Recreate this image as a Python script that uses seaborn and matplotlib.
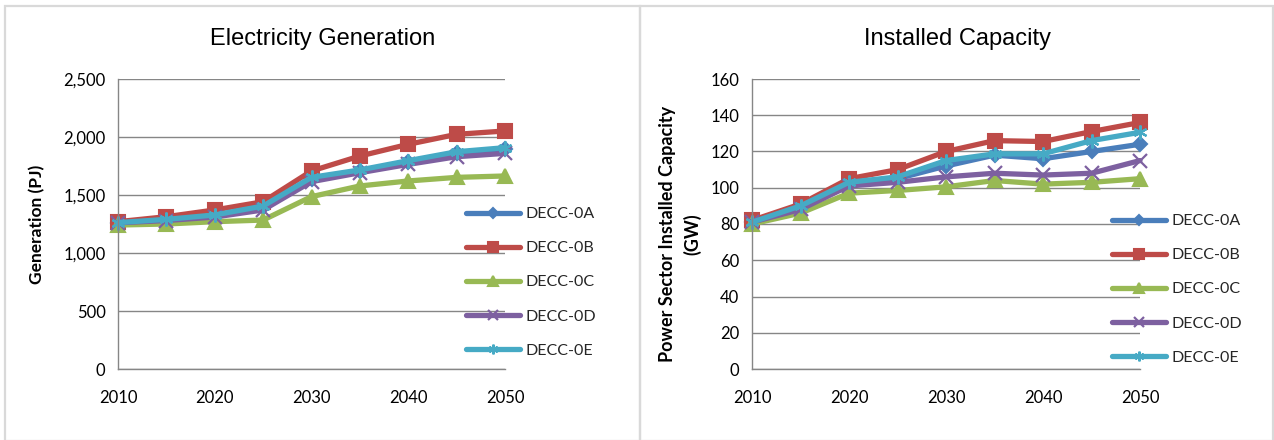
import matplotlib
matplotlib.use("Agg")
import matplotlib.pyplot as plt
from matplotlib.patches import Rectangle
import pandas as pd
import seaborn as sns

# Scenario results, 2010-2050 in five-year steps
years = [2010, 2015, 2020, 2025, 2030, 2035, 2040, 2045, 2050]
scenarios = ["DECC-0A", "DECC-0B", "DECC-0C", "DECC-0D", "DECC-0E"]

gen_0a = [1260, 1285, 1320, 1395, 1640, 1705, 1785, 1860, 1895]
gen_0b = [1270, 1313, 1371, 1442, 1707, 1836, 1937, 2023, 2052]
gen_0c = [1241, 1250, 1270, 1284, 1486, 1578, 1621, 1652, 1664]
gen_0d = [1260, 1280, 1310, 1371, 1615, 1692, 1764, 1830, 1859]
gen_0e = [1262, 1290, 1328, 1405, 1652, 1716, 1796, 1873, 1908]

cap_0a = [81, 89, 102, 105, 112, 118, 116, 120, 124]
cap_0b = [82, 91, 105, 110, 120, 126, 125.5, 131, 136]
cap_0c = [80, 86, 97, 98.5, 100.5, 104, 102, 103, 105]
cap_0d = [81, 88, 101, 103, 106, 108, 107, 108, 115]
cap_0e = [81, 90, 103, 106, 115, 118.7, 118.7, 126, 130.6]

colors = ["#4a7ebb", "#be4b48", "#98b954", "#7d60a0", "#46aac5"]
markers = ["D", "s", "^", "x", (6, 2, 0)]


def long_frame(series):
    rows = []
    for name, vals in zip(scenarios, series):
        for y, v in zip(years, vals):
            rows.append({"year": y, "value": v, "scenario": name})
    return pd.DataFrame(rows)


gen_df = long_frame([gen_0a, gen_0b, gen_0c, gen_0d, gen_0e])
cap_df = long_frame([cap_0a, cap_0b, cap_0c, cap_0d, cap_0e])

sns.set_theme(style="white")
plt.rcParams["font.family"] = ["Lato", "DejaVu Sans"]

W, H = 1274, 440
fig = plt.figure(figsize=(W / 100, H / 100), dpi=100)


def fx(px):
    return px / W


def fy(py):
    return 1 - py / H


# Panel frames
for x0, x1 in [(5, 640), (640, 1273)]:
    fig.add_artist(Rectangle((fx(x0), fy(441)), fx(x1 - x0), fy(6) - fy(441),
                             transform=fig.transFigure, fill=False,
                             edgecolor="#d9d9d9", linewidth=1.6, zorder=0))

grid_c = "#868686"


def draw(ax, df, title, title_x, ylabel, ylabel_size, yticks, ylim, yfmt,
         legend_xy, label_xy):
    marker_map = dict(zip(scenarios, markers))
    palette = dict(zip(scenarios, colors))
    for name in scenarios:
        sub = df[df["scenario"] == name]
        mk = marker_map[name]
        filled = mk in ("D", "s", "^")
        sns.lineplot(data=sub, x="year", y="value", ax=ax, color=palette[name],
                     linewidth=3.8, marker=mk, markersize=10 if mk != "D" else 7.5,
                     markeredgewidth=1.5 if filled else 1.6,
                     markeredgecolor=palette[name],
                     markerfacecolor=palette[name] if filled else "none",
                     label=name, clip_on=False, solid_capstyle="round")
    ax.set_xlim(2010, 2050)
    ax.set_ylim(*ylim)
    ax.set_xticks([2010, 2020, 2030, 2040, 2050])
    ax.set_yticks(yticks)
    ax.set_yticklabels([yfmt(v) for v in yticks])
    ax.set_xlabel("")
    ax.set_ylabel(ylabel, fontsize=ylabel_size, fontweight="bold", color="black",
                  linespacing=1.45)
    ax.yaxis.set_label_coords(fx(label_xy[0]), fy(label_xy[1]), transform=fig.transFigure)
    for s in ["top", "right"]:
        ax.spines[s].set_visible(False)
    for s in ["left", "bottom"]:
        ax.spines[s].set_color(grid_c)
        ax.spines[s].set_linewidth(1.0)
    ax.yaxis.grid(True, color=grid_c, linewidth=1.0)
    ax.xaxis.grid(False)
    ax.set_axisbelow(True)
    ax.tick_params(axis="both", which="both", direction="out", length=5,
                   width=1.0, color=grid_c, labelsize=12, labelcolor="black")
    ax.tick_params(axis="x", pad=10)
    ax.tick_params(axis="y", pad=4)
    handles, labels = ax.get_legend_handles_labels()
    ax.legend(handles, labels, loc="upper left",
              bbox_to_anchor=(fx(legend_xy[0]), fy(legend_xy[1])),
              bbox_transform=fig.transFigure, frameon=False, fontsize=11.5,
              handlelength=3.4, handletextpad=0.3, labelspacing=1.25,
              borderpad=0, borderaxespad=0, markerscale=0.7)
    fig.text(fx(title_x), fy(39), title, fontsize=17, ha="center", va="center",
             family=["Liberation Sans", "DejaVu Sans"], color="black")


ax1 = fig.add_axes([fx(118), fy(369), fx(505 - 118), fy(79) - fy(369)])
ax2 = fig.add_axes([fx(752), fy(369), fx(1140 - 752), fy(79) - fy(369)])

draw(ax1, gen_df, "Electricity Generation", 323, "Generation (PJ)", 12.5,
     [0, 500, 1000, 1500, 2000, 2500], (0, 2500), lambda v: f"{v:,}",
     (466, 207), (45, 224))
draw(ax2, cap_df, "Installed Capacity", 957, "Power Sector Installed Capacity\n(GW)", 13,
     list(range(0, 161, 20)), (0, 160), lambda v: f"{v}",
     (1112, 214), (701, 234))

fig.savefig("out.png", dpi=100, facecolor="white")
